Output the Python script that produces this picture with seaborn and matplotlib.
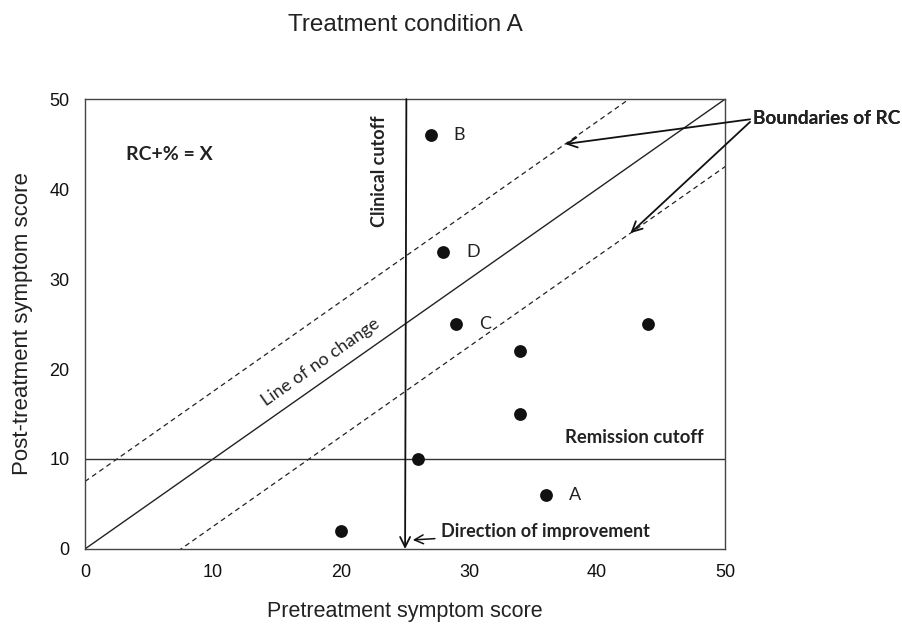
import matplotlib
matplotlib.use("Agg")
import matplotlib.pyplot as plt
import numpy as np
import pandas as pd
import seaborn as sns

# Patient scores
pre_scores = [27, 28, 29, 34, 34, 44, 26, 36, 20]
post_scores = [46, 33, 25, 22, 15, 25, 10, 6, 2]
point_labels = ["B", "D", "C", "", "", "", "", "A", ""]

# Reference lines
clinical_cutoff = 25
remission_cutoff = 10
rc_band = 7.5
axis_max = 50
ticks = [0, 10, 20, 30, 40, 50]

sns.set_theme(style="white")
plt.rcParams["font.family"] = ["Liberation Sans", "DejaVu Sans"]
bold_font = ["Lato", "DejaVu Sans"]

fig = plt.figure(figsize=(9.03, 6.31), dpi=100)
ax = fig.add_axes([0.0941, 0.130, 0.709, 0.713])

df = pd.DataFrame({"pre": pre_scores, "post": post_scores, "label": point_labels})

# Line of no change and reliable-change boundaries
xs = np.array([0, axis_max])
ax.plot(xs, xs, color="#222222", lw=1.0, zorder=2)
ax.plot(xs, xs + rc_band, color="#222222", lw=0.9, ls=(0, (4, 3)), zorder=2)
ax.plot(xs, xs - rc_band, color="#222222", lw=0.9, ls=(0, (4, 3)), zorder=2)

# Remission cutoff
ax.plot(xs, [remission_cutoff, remission_cutoff], color="#333333", lw=1.0, zorder=2)

# Clinical cutoff with arrow pointing to improvement
ax.annotate("", xy=(clinical_cutoff, 0), xytext=(clinical_cutoff + 0.1, axis_max),
            arrowprops=dict(arrowstyle="->", color="#111111", lw=1.3,
                            mutation_scale=18, shrinkA=0, shrinkB=0), zorder=3)

sns.scatterplot(data=df, x="pre", y="post", ax=ax, color="#111111", s=85,
                edgecolor="#111111", linewidth=0, zorder=4, legend=False)

for _, row in df.iterrows():
    if row["label"]:
        ax.text(row["pre"] + 1.8, row["post"], row["label"], fontsize=13,
                family=bold_font, va="center", ha="left", color="#222222")

ax.set_xlim(0, axis_max)
ax.set_ylim(0, axis_max)
ax.set_xticks(ticks)
ax.set_yticks(ticks)
ax.tick_params(axis="both", which="both", direction="inout", length=12, width=0.8,
               colors="#333333", labelsize=13, pad=5)
for lab in ax.get_xticklabels() + ax.get_yticklabels():
    lab.set_color("#111111")
for side in ["left", "bottom", "top", "right"]:
    ax.spines[side].set_color("#444444")
    ax.spines[side].set_linewidth(1.0)

ax.set_xlabel("Pretreatment symptom score", fontsize=15.5, labelpad=14, color="#222222")
ax.set_ylabel("Post-treatment symptom score", fontsize=16, labelpad=12, color="#222222")
ax.set_title("Treatment condition A", fontsize=17.5, pad=49, color="#222222")

# Annotations
ax.text(3.2, 43.8, "RC+% = X", fontsize=14, fontweight="bold", family=bold_font,
        va="center", ha="left", color="#222222")
ax.text(23.0, 42.0, "Clinical cutoff", fontsize=13, fontweight="bold", family=bold_font,
        rotation=90, va="center", ha="center", color="#222222")
ax.text(18.4, 20.8, "Line of no change", fontsize=13, family=bold_font,
        rotation=35.1, va="center", ha="center", rotation_mode="anchor", color="#222222")
ax.text(42.9, 12.4, "Remission cutoff", fontsize=13.3, fontweight="bold", family=bold_font,
        va="center", ha="center", color="#222222")

ax.annotate("Direction of improvement", xy=(25.6, 1.0), xytext=(27.8, 1.9),
            fontsize=13, fontweight="bold", family=bold_font, va="center", ha="left",
            color="#222222",
            arrowprops=dict(arrowstyle="->", color="#111111", lw=1.1,
                            mutation_scale=16, shrinkA=2, shrinkB=0))

for target in [(37.5, 37.5 + rc_band), (42.6, 42.6 - rc_band)]:
    ax.annotate("Boundaries of RC", xy=target, xytext=(52.2, 47.8),
                fontsize=13.7, fontweight="bold", family=bold_font, va="center",
                ha="left", color="#222222", annotation_clip=False,
                arrowprops=dict(arrowstyle="->", color="#111111", lw=1.3,
                                mutation_scale=18, shrinkA=0, shrinkB=0,
                                relpos=(0, 0.5)))

fig.savefig("out.png", dpi=100)
